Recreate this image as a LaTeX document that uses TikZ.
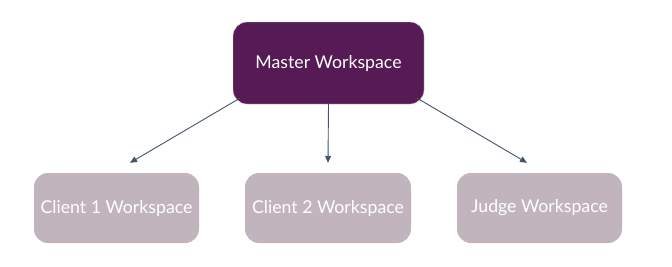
\documentclass[tikz,border=0pt]{standalone}
\usepackage{fontspec}
\setmainfont{Lato}
\usetikzlibrary{arrows.meta}
\definecolor{master}{HTML}{561A54}
\definecolor{client}{HTML}{C2B4BD}
\definecolor{arrowc}{HTML}{44546A}
\begin{document}
\begin{tikzpicture}[x=1pt,y=-1pt,
  box/.style={rounded corners=14pt, minimum height=70pt, text=white, font=\fontsize{17.7}{20}\selectfont, inner sep=0pt},
  conn/.style={draw=arrowc, line width=0.9pt, -{Triangle[length=7pt,width=6pt]}}]
\useasboundingbox (0,0) rectangle (672,266);
\node[box, fill=master, draw=white!70!gray, minimum width=191pt, minimum height=82pt] (m) at (328.5,63) {Master Workspace};
\node[box, fill=client, minimum width=165pt] (c1) at (116.5,208) {Client 1 Workspace};
\node[box, fill=client, minimum width=166pt] (c2) at (328,208) {Client 2 Workspace};
\node[box, fill=client, minimum width=165pt] (j) at (539.5,208) {Judge Workspace};
\coordinate (e1) at ([shift={(13.5,-10)}]c1.north);
\coordinate (e2) at ([shift={(0,-10)}]c2.north);
\coordinate (e3) at ([shift={(-12.5,-10)}]j.north);
\draw[conn] ([shift={(7,-6)}]m.south west) -- (e1);
\draw[conn] (m.south) -- (e2);
\draw[conn] ([shift={(-7,-6)}]m.south east) -- (e3);
\end{tikzpicture}
\end{document}
